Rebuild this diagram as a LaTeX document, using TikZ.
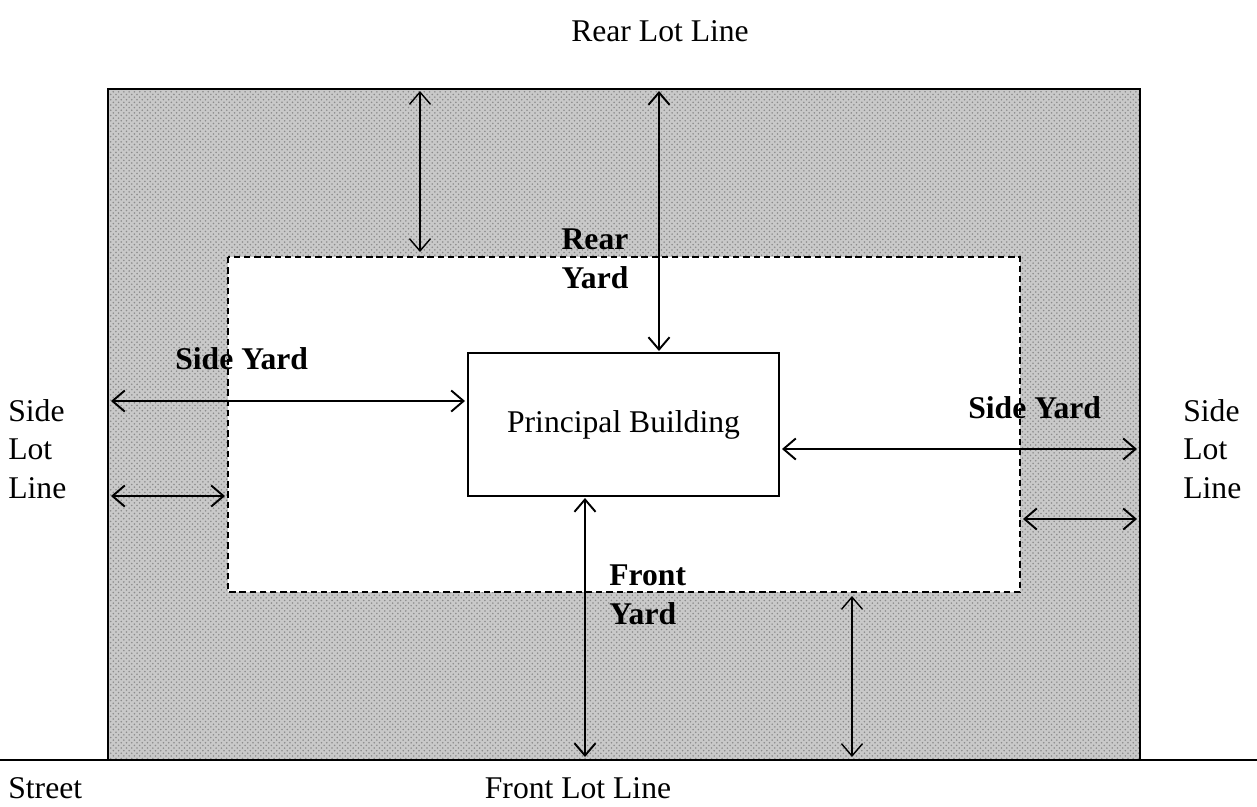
\documentclass[tikz,border=0pt]{standalone}
\usepackage{fontspec}
\setmainfont{Liberation Serif}
\usetikzlibrary{arrows.meta, positioning, patterns}
\tikzstyle{lot} = [line width=1.2pt, preaction={fill=gray!42}, pattern=crosshatch dots, pattern color=gray!90]
\tikzstyle{envelope} = [draw, dashed, dash pattern=on 3.6pt off 2.2pt, line width=0.9pt, fill=white]
\tikzstyle{bldg} = [draw, line width=1pt, fill=white, minimum width=6.22cm, minimum height=2.86cm]
\tikzstyle{dim} = [{Straight Barb[length=7pt,width=12pt]}-{Straight Barb[length=7pt,width=12pt]}, line width=1.1pt]
\tikzstyle{thin dim} = [dim, line width=0.8pt]
\tikzstyle{lbl} = [inner sep=0pt, font=\fontsize{18}{22}\selectfont]
\tikzstyle{blbl} = [lbl, font=\fontsize{18}{22}\selectfont\bfseries]

\begin{document}
\begin{tikzpicture}[x=0.02cm, y=-0.02cm]
	\useasboundingbox (0,0) rectangle (1257,806);

	% lot and building envelope
	\coordinate (lotNW) at (108,89);
	\coordinate (lotSE) at (1140,760);
	\path [lot] (lotNW) rectangle (lotSE);
	\draw [line width=1.2pt] (lotNW |- lotSE) -- (lotNW) -- (lotNW -| lotSE) -- (lotSE);
	\draw [envelope] (228,257) rectangle (1020,592);
	\coordinate (streetW) at (0,760);
	\coordinate (streetE) at (1257,760);
	\draw [line width=1.2pt] (streetW) -- (streetE);

	\node [bldg] (bldg) at (623.5,424.5) {};
	\node [lbl] (pb) at (bldg.center) {Principal Building};

	% arrow ends
	\coordinate (r1) at (420,91);   \coordinate (r2) at (420,252);
	\coordinate (r3) at (659,91);   \coordinate (r4) at (659,351);
	\coordinate (s1) at (111,401);  \coordinate (s2) at (465,401);
	\coordinate (s3) at (111,496);  \coordinate (s4) at (225,496);
	\coordinate (s5) at (782,449);  \coordinate (s6) at (1137,449);
	\coordinate (s7) at (1023,519); \coordinate (s8) at (1137,519);
	\coordinate (f1) at (585,498);  \coordinate (f2) at (585,757);
	\coordinate (f3) at (852,596);  \coordinate (f4) at (852,757);

	\draw [thin dim] (r1) -- (r2);
	\draw [dim] (r3) -- (r4);
	\draw [dim] (s1) -- (s2);
	\draw [dim] (s3) -- (s4);
	\draw [dim] (s5) -- (s6);
	\draw [dim] (s7) -- (s8);
	\draw [dim] (f1) -- (f2);
	\draw [thin dim] (f3) -- (f4);

	% labels
	\node [lbl] (rll) at (660,31) {Rear Lot Line};
	\node [blbl, align=center] (ry) at (595,259) {Rear\\Yard};
	\node [blbl, anchor=west] (syl) at (175,359) {Side Yard};
	\node [blbl, anchor=west] (syr) at (968,408) {Side Yard};
	\node [blbl, align=left, anchor=west] (fy) at (609,595) {Front\\Yard};
	\node [lbl, align=left, anchor=west] (sll) at (8,449) {Side\\Lot\\Line};
	\node [lbl, align=left, anchor=west] (slr) at (1183,449) {Side\\Lot\\Line};
	\node [lbl, anchor=west] (st) at (8,788) {Street};
	\node [lbl] (fll) at (578,788) {Front Lot Line};
\end{tikzpicture}
\end{document}
